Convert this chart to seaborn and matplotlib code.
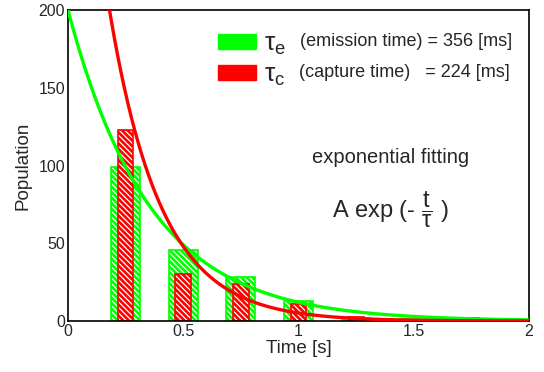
import numpy as np
import pandas as pd
import matplotlib
matplotlib.use("Agg")
import matplotlib.pyplot as plt
import matplotlib.patches as mpatches
import seaborn as sns

# histogram bin centres [s] and counts
bin_time = [0.25, 0.5, 0.75, 1.0, 1.25, 1.5, 1.75]
emission_counts = [99, 46, 28, 13, 2, 1, 1]
capture_counts = [123, 30, 24, 11, 2.5, 0, 2]

# exponential fit parameters
tau_emission = 0.356
tau_capture = 0.224
amp_emission = 200
amp_capture = 447

legend_tau = [r"$\mathregular{\tau_e}$", r"$\mathregular{\tau_c}$"]
legend_rest = ["(emission time) = 356 [ms]", "(capture time)   = 224 [ms]"]

GREEN = "#00ff00"
RED = "#ff0000"


def main() -> None:
    sns.set_theme(style="ticks")
    plt.rcParams["font.family"] = ["Liberation Sans", "DejaVu Sans"]
    plt.rcParams["mathtext.fontset"] = "dejavusans"
    plt.rcParams["hatch.linewidth"] = 0.9

    fig = plt.figure(figsize=(5.44, 3.72), dpi=100)
    ax = fig.add_axes([0.125, 0.137, 0.847, 0.836])

    bars = pd.DataFrame({"t": bin_time, "emission": emission_counts, "capture": capture_counts})

    for col, color, width in [("emission", GREEN, 0.5), ("capture", RED, 0.27)]:
        n_before = len(ax.patches)
        sns.barplot(data=bars, x="t", y=col, native_scale=True, width=width,
                    color=color, saturation=1, ax=ax, zorder=2)
        for p in ax.patches[n_before:]:
            p.set_hatch("\\\\\\\\\\\\")
            p.set_edgecolor("white")
            p.set_linewidth(0)
        sns.barplot(data=bars, x="t", y=col, native_scale=True, width=width,
                    color=color, saturation=1, fill=False, linewidth=1.2,
                    ax=ax, zorder=2)

    t = np.linspace(0, 2, 400)
    fits = pd.DataFrame({
        "t": t,
        "emission": amp_emission * np.exp(-t / tau_emission),
        "capture": amp_capture * np.exp(-t / tau_capture),
    })
    sns.lineplot(data=fits, x="t", y="emission", color=GREEN, linewidth=2.4, ax=ax, zorder=3)
    sns.lineplot(data=fits, x="t", y="capture", color=RED, linewidth=2.4, ax=ax, zorder=3)

    ax.set_xlim(0, 2)
    ax.set_ylim(0, 200)
    ax.set_xticks([0, 0.5, 1, 1.5, 2])
    ax.set_xticklabels(["0", "0.5", "1", "1.5", "2"])
    ax.set_yticks([0, 50, 100, 150, 200])
    ax.tick_params(axis="both", direction="in", length=0, labelsize=11.5, pad=2)
    ax.set_xlabel("Time [s]", fontsize=13.5, labelpad=1)
    ax.set_ylabel("Population", fontsize=13.5, labelpad=5)
    for s in ax.spines.values():
        s.set_color("black")
        s.set_linewidth(1.2)

    handles = [mpatches.Patch(color=GREEN), mpatches.Patch(color=RED)]
    leg = ax.legend(handles, legend_tau, loc="upper left", bbox_to_anchor=(0.325, 0.93),
                    frameon=False, fontsize=19, handlelength=1.45, handleheight=0.45,
                    handletextpad=0.3, labelspacing=0.22, borderpad=0, borderaxespad=0)
    fig.canvas.draw()
    for txt, rest in zip(leg.get_texts(), legend_rest):
        bb = txt.get_window_extent()
        ax.annotate(rest, xy=(bb.x1, bb.y0 + 0.3 * bb.height), xycoords="figure pixels",
                    xytext=(10, 0), textcoords="offset points", fontsize=13,
                    va="bottom", ha="left")

    ax.text(0.70, 0.527, "exponential fitting", transform=ax.transAxes,
            fontsize=14.5, ha="center", va="center")
    ax.text(0.70, 0.357, r"A exp (- $\mathregular{\dfrac{t}{\tau}}$ )", transform=ax.transAxes,
            fontsize=17, ha="center", va="center")

    fig.savefig("out.png", dpi=100)
    plt.close(fig)


if __name__ == "__main__":
    main()
